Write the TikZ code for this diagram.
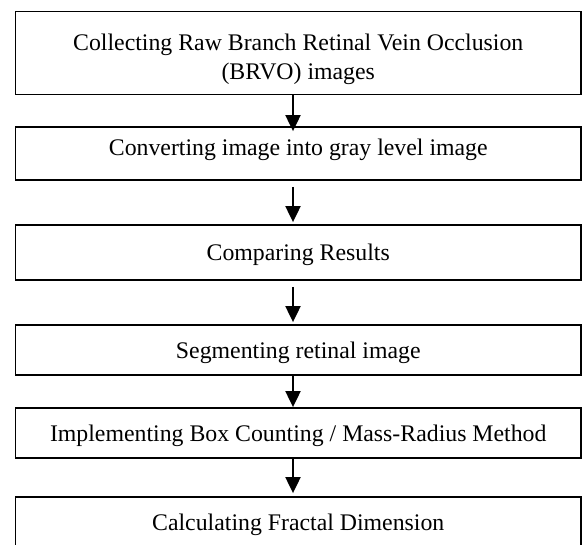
\documentclass[tikz,border=0pt]{standalone}
\usepackage{fontspec}
\setmainfont{Liberation Serif}
\usetikzlibrary{arrows.meta}
\begin{document}
\begin{tikzpicture}[x=1pt,y=-1pt,
  box/.style={draw=black, line width=1.8pt, minimum width=565.5pt, align=center,
    inner sep=0pt, font=\fontsize{23.8}{28.5}\selectfont},
  oneline/.style={text height=21.4pt, text depth=5.2pt},
  arr/.style={line width=2pt, -{Triangle[width=15pt,length=16pt]}}]
\useasboundingbox[fill=white] (0,0) rectangle (586,545);
\begin{scope}
\clip (0,0) rectangle (586,545);
\node[box, minimum height=83pt] (b1) at (298.25,53) {\rule{0pt}{29.3pt}Collecting Raw Branch Retinal Vein Occlusion\\(BRVO) images};
\node[box, minimum height=53pt, text height=16pt, text depth=11.8pt] (b2) at (298.25,153.5) {Converting image into gray level image};
\node[box, oneline, minimum height=55pt] (b3) at (298.25,252.5) {Comparing Results};
\node[box, oneline, minimum height=50pt] (b4) at (298.25,350) {Segmenting retinal image};
\node[box, oneline, minimum height=50pt] (b5) at (298.25,433) {Implementing Box Counting / Mass-Radius Method};
\node[box, oneline, minimum height=51pt] (b6) at (298.25,522.5) {Calculating Fractal Dimension};
\end{scope}
\draw[arr] ([xshift=-5.25pt]b1.south) -- ([xshift=-5.25pt,yshift=-5pt]b2.north);
\draw[arr] ([xshift=-5.25pt,yshift=-6pt]b2.south) -- ([xshift=-5.25pt,yshift=2pt]b3.north);
\draw[arr] ([xshift=-5.25pt,yshift=-6pt]b3.south) -- ([xshift=-5.25pt,yshift=2pt]b4.north);
\draw[arr] ([xshift=-5.25pt]b4.south) -- ([xshift=-5.25pt]b5.north);
\draw[arr] ([xshift=-5.25pt]b5.south) -- ([xshift=-5.25pt,yshift=3pt]b6.north);
\end{tikzpicture}
\end{document}
